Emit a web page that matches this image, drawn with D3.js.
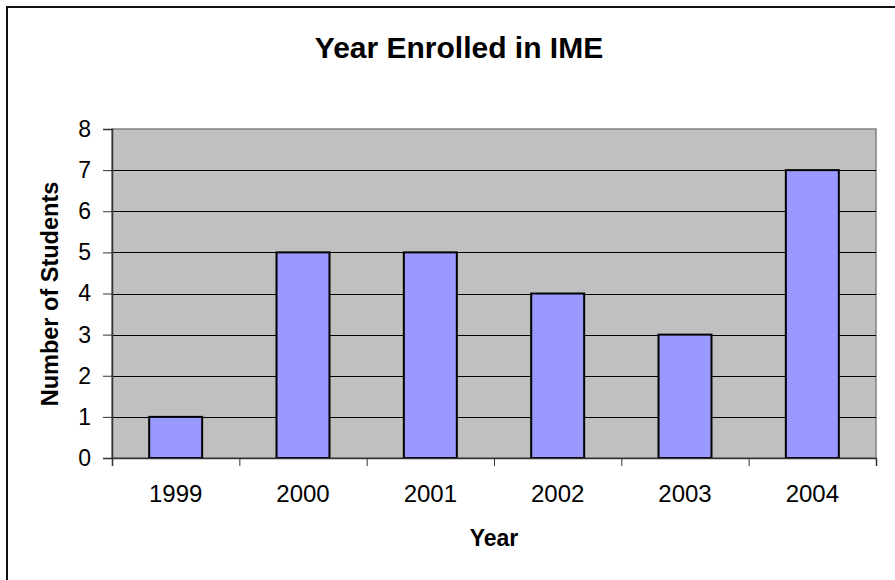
<!DOCTYPE html>
<html>
<head>
<meta charset="utf-8">
<script src="https://cdn.jsdelivr.net/npm/d3@7"></script>
<style>
html, body { margin: 0; padding: 0; background: #fff; }
svg { display: block; font-family: Arial, "Liberation Sans", sans-serif; }
</style>
</head>
<body>
<svg id="chart" width="895" height="580"></svg>
<script>
const categories = ["1999", "2000", "2001", "2002", "2003", "2004"];
const students = [1, 5, 5, 4, 3, 7];
const yTicks = [0, 1, 2, 3, 4, 5, 6, 7, 8];
const titleText = "Year Enrolled in IME";
const xTitle = "Year";
const yTitle = "Number of Students";

const svg = d3.select("#chart");
const plot = { left: 112, right: 876, top: 129, bottom: 458 };

// outer frame (extends beyond canvas on right/bottom)
svg.append("rect")
  .attr("x", 7).attr("y", 7).attr("width", 1000).attr("height", 1000)
  .attr("fill", "none").attr("stroke", "#111").attr("stroke-width", 2);

const x = d3.scaleBand().domain(categories)
  .range([plot.left, plot.right]).paddingInner(0.584).paddingOuter(0.292);
const slot = d3.scaleLinear().domain([0, categories.length]).range([plot.left, plot.right]);
const y = d3.scaleLinear().domain([0, 8]).range([plot.bottom, plot.top]);

// plot background
svg.append("rect")
  .attr("x", plot.left).attr("y", plot.top)
  .attr("width", plot.right - plot.left).attr("height", plot.bottom - plot.top)
  .attr("fill", "#C0C0C0").attr("stroke", "#808080").attr("stroke-width", 1.5);

// gridlines
svg.append("g").selectAll("line").data(yTicks.filter(d => d > 0 && d < 8)).join("line")
  .attr("x1", plot.left).attr("x2", plot.right)
  .attr("y1", d => Math.round(y(d)) + 0.5).attr("y2", d => Math.round(y(d)) + 0.5)
  .attr("stroke", "#000").attr("stroke-width", 1);

// bars
svg.append("g").selectAll("rect").data(categories).join("rect")
  .attr("x", d => x(d)).attr("width", x.bandwidth())
  .attr("y", (d, i) => y(students[i]))
  .attr("height", (d, i) => y(0) - y(students[i]))
  .attr("fill", "#9999FF").attr("stroke", "#000").attr("stroke-width", 2);

// y axis
const yAxis = d3.axisLeft(y).tickValues(yTicks).tickSize(9).tickPadding(12);
const gy = svg.append("g").attr("transform", `translate(${plot.left},0)`).call(yAxis);
gy.select(".domain").attr("stroke", "#333").attr("stroke-width", 1.5);
gy.selectAll(".tick line").attr("stroke", "#333");
gy.selectAll(".tick text").attr("font-size", 23).attr("fill", "#000")
  .attr("font-family", "Arial, 'Liberation Sans', sans-serif");

// x axis: slot ticks
const xAxisTicks = d3.axisBottom(slot).tickValues(d3.range(0, categories.length + 1))
  .tickSize(8).tickFormat("");
const gx = svg.append("g").attr("transform", `translate(0,${plot.bottom})`).call(xAxisTicks);
gx.select(".domain").attr("stroke", "#333").attr("stroke-width", 1.5);
gx.selectAll(".tick line").attr("stroke", "#333");

// x labels
const xLabels = d3.axisBottom(x).tickSize(0).tickPadding(0);
const gxl = svg.append("g").attr("transform", `translate(0,${plot.bottom})`).call(xLabels);
gxl.select(".domain").remove();
gxl.selectAll(".tick text").attr("y", 44).attr("dy", 0)
  .attr("font-size", 24).attr("fill", "#000")
  .attr("font-family", "Arial, 'Liberation Sans', sans-serif");

// titles
svg.append("text").attr("x", 459).attr("y", 58).attr("text-anchor", "middle")
  .attr("font-size", 30).attr("font-weight", "bold").text(titleText);
svg.append("text").attr("x", 494).attr("y", 546).attr("text-anchor", "middle")
  .attr("font-size", 23).attr("font-weight", "bold").text(xTitle);
svg.append("text").attr("transform", "translate(58,294) rotate(-90)")
  .attr("text-anchor", "middle")
  .attr("font-size", 23.5).attr("font-weight", "bold").text(yTitle);
</script>
</body>
</html>
